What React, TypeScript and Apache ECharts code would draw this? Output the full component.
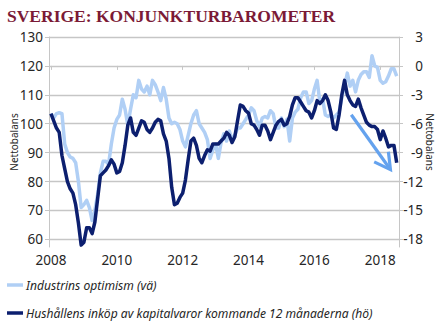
import React, { useEffect, useRef } from "react";
import * as echarts from "echarts";

const START_YEAR = 2008;
const yearTicks = [2008, 2010, 2012, 2014, 2016, 2018];
const leftTicks = [60, 70, 80, 90, 100, 110, 120, 130];
const rightTicks = [-18, -15, -12, -9, -6, -3, 0, 3];

// Industrins optimism (vä) – monthly, Jan 2008 – Jul 2018
const industry = [
  103.5, 102, 103.5, 103.8, 103.5, 93, 90, 88.5, 88, 86.5, 80, 71,
  72, 73.5, 71, 66.5, 70, 75.5, 83, 87, 87, 86, 93, 98.5,
  101.5, 103, 108.5, 105, 99.5, 105, 110, 109, 115, 112, 111, 113,
  110, 115, 113.5, 111, 108, 112.5, 108.5, 102, 100, 100.5, 100, 98,
  94, 92, 96, 100, 103, 104.5, 100, 98.5, 97, 94.5, 88, 91,
  93, 88, 93.5, 96.5, 94, 97.5, 94.5, 96, 98.5, 98.5, 100, 101.5,
  103, 105.5, 104.5, 101, 99, 102, 102.5, 102, 104.5, 103.5, 98.5, 98.5,
  102, 99, 101.5, 94, 102, 104, 105, 109, 111, 111, 107, 108,
  112, 115, 107.5, 108.5, 103, 102.5, 103, 102, 103, 104, 109, 113,
  117.5, 113, 115, 111, 115, 117, 118, 118, 116, 123.5, 120, 119.5,
  115, 114, 114.5, 116.5, 119, 119, 116.5,
];

// Hushållens inköp av kapitalvaror kommande 12 månaderna (hö)
const households = [
  -4.95, -5.7, -6.45, -6.9, -9.3, -10.65, -12, -12.75, -13.2, -14.4, -16.3, -18.6,
  -18.3, -16.8, -16.8, -17.4, -16.2, -13.8, -11.4, -11.1, -10.8, -10.35, -9.75, -10.2,
  -11.1, -10.95, -10.05, -8.25, -6.15, -5.4, -6.9, -7.2, -6.45, -5.7, -5.85, -6.6,
  -6.9, -6.45, -5.85, -5.55, -5.7, -7.05, -7.8, -9.6, -12.6, -14.4, -14.25, -13.65,
  -13.2, -11.85, -9.75, -7.8, -7.5, -8.25, -9.6, -10.05, -9.3, -8.7, -8.85, -8.1,
  -8.1, -8.1, -7.8, -7.5, -6.9, -7.2, -7.95, -7.35, -5.7, -4.05, -4.2, -4.65,
  -4.9, -6, -6.15, -6.6, -7.2, -6.15, -6.15, -6.75, -7.65, -6.9, -6.15, -5.75,
  -5.55, -6.15, -6, -5.25, -4.05, -3.3, -3.3, -3.75, -4.2, -4.65, -4.8, -5.4,
  -4.65, -3.6, -3.9, -3.6, -3, -3.6, -4.8, -6.45, -6.6, -5.1, -3, -1.5,
  -3, -3.6, -4.05, -4.2, -3.45, -4.35, -5.1, -5.85, -6.15, -6.3, -6.3, -6.6,
  -7.65, -6.75, -7.5, -8.4, -8.25, -8.25, -10.05,
];

const seriesNames = [
  "Industrins optimism (vä)",
  "Hushållens inköp av kapitalvaror kommande 12 månaderna (hö)",
];

// Trend arrow (left-axis coordinates): start and tip
const arrowStart = [2017.12, 103.1];
const arrowEnd = [2018.31, 84.1];

const LIGHT = "#b0cff5";
const DARK = "#0c1f6f";
const ARROW = "#64a2ee";
const GRID = "#c6c6c6";
const TEXT = "#262626";
const FONT = "'Noto Sans', 'Open Sans', sans-serif";

export default function App() {
  const ref = useRef<HTMLDivElement>(null);
  useEffect(() => {
    if (!ref.current) return;
    const chart = echarts.init(ref.current, null, { renderer: "svg" });
    const toT = (i: number) => START_YEAR + i / 12;
    const indData = industry.map((v, i) => [toT(i), v]);
    const hhData = households.map((v, i) => [toT(i), v]);
    const legendBase = {
      orient: "horizontal",
      left: 7,
      padding: 0,
      itemWidth: 16,
      itemHeight: 3.5,
      icon: "rect",
      textStyle: { fontSize: 12.1, fontStyle: "italic", color: TEXT, fontFamily: FONT, padding: [0, 0, 0, -2] },
    };
    chart.setOption({
      animation: false,
      backgroundColor: "#ffffff",
      title: {
        text: "SVERIGE: KONJUNKTURBAROMETER",
        left: 7,
        top: 7,
        padding: 0,
        textStyle: {
          fontFamily: "'Liberation Serif', 'DejaVu Serif', serif",
          fontWeight: "bold",
          fontSize: 17.5,
          color: "#7b1a36",
        },
      },
      grid: { left: 49, right: 46, top: 37, bottom: 80, outerBoundsMode: "none", containLabel: false },
      xAxis: {
        type: "value",
        min: 2007.94,
        max: 2018.57,
        splitNumber: 5,
        minInterval: 2,
        maxInterval: 2,
        axisLine: { show: true, lineStyle: { color: GRID, width: 1 } },
        axisTick: { show: true, length: 4, lineStyle: { color: GRID }, customValues: yearTicks },
        axisLabel: {
          customValues: yearTicks,
          color: TEXT,
          fontSize: 13.5,
          fontFamily: FONT,
          margin: 6,
          formatter: (v: number) => String(Math.round(v)),
        },
        splitLine: { show: false },
      },
      yAxis: [
        {
          type: "value",
          min: 57.35,
          max: 130,
          splitNumber: 7,
          minInterval: 10,
          maxInterval: 10,
          name: "Nettobalans",
          nameLocation: "middle",
          nameRotate: 90,
          nameGap: 30,
          nameMoveOverlap: false,
          nameTextStyle: { fontSize: 10, color: TEXT, fontFamily: FONT },
          axisLine: { show: true, lineStyle: { color: GRID } },
          axisTick: { show: true, length: 4, lineStyle: { color: GRID }, customValues: leftTicks },
          axisLabel: {
            customValues: leftTicks,
            color: TEXT,
            fontSize: 13.5,
            fontFamily: FONT,
            margin: 6,
          },
          splitLine: { show: true, lineStyle: { color: GRID, width: 1.3 } },
        },
        {
          type: "value",
          min: -18.795,
          max: 3,
          splitNumber: 7,
          minInterval: 3,
          maxInterval: 3,
          position: "right",
          name: "Nettobalans",
          nameLocation: "middle",
          nameRotate: -90,
          nameGap: 26,
          nameMoveOverlap: false,
          nameTextStyle: { fontSize: 10, color: TEXT, fontFamily: FONT },
          axisLine: { show: true, lineStyle: { color: GRID } },
          axisTick: { show: true, length: 4, lineStyle: { color: GRID }, customValues: rightTicks },
          axisLabel: {
            customValues: rightTicks,
            align: "right",
            color: TEXT,
            fontSize: 13.5,
            fontFamily: FONT,
            margin: 24,
          },
          splitLine: { show: false },
        },
      ],
      legend: [
        { ...legendBase, top: 279, data: [seriesNames[0]] },
        { ...legendBase, top: 307, data: [seriesNames[1]] },
      ],
      series: [
        {
          name: seriesNames[0],
          type: "line",
          yAxisIndex: 0,
          data: indData,
          showSymbol: false,
          symbol: "none",
          clip: false,
          color: LIGHT,
          lineStyle: { color: LIGHT, width: 3.5, join: "round" },
          z: 2,
        },
        {
          name: seriesNames[1],
          type: "line",
          yAxisIndex: 1,
          data: hhData,
          showSymbol: false,
          symbol: "none",
          clip: false,
          color: DARK,
          lineStyle: { color: DARK, width: 3.5, join: "round" },
          z: 3,
        },
      ],
    });

    const p0 = chart.convertToPixel({ xAxisIndex: 0, yAxisIndex: 0 }, arrowStart) as number[];
    const p1 = chart.convertToPixel({ xAxisIndex: 0, yAxisIndex: 0 }, arrowEnd) as number[];
    if (p0 && p1) {
      const ang = Math.atan2(p1[1] - p0[1], p1[0] - p0[0]);
      const headLen = 18;
      const half = (29 * Math.PI) / 180;
      const a1 = [p1[0] - headLen * Math.cos(ang - half), p1[1] - headLen * Math.sin(ang - half)];
      const a2 = [p1[0] - headLen * Math.cos(ang + half), p1[1] - headLen * Math.sin(ang + half)];
      chart.setOption({
        graphic: [
          {
            type: "line",
            z: 10,
            shape: { x1: p0[0], y1: p0[1], x2: p1[0] - 2 * Math.cos(ang), y2: p1[1] - 2 * Math.sin(ang) },
            style: { stroke: ARROW, lineWidth: 3.2, lineCap: "butt" },
          },
          {
            type: "polyline",
            z: 10,
            shape: { points: [a1, p1, a2] },
            style: { stroke: ARROW, lineWidth: 3.2, fill: null, lineJoin: "miter", lineCap: "butt" },
          },
        ],
      });
    }
    return () => chart.dispose();
  }, []);
  return (
    <div
      ref={ref}
      style={{ position: "fixed", left: 0, top: 0, width: 445, height: 327, background: "#fff" }}
    />
  );
}
